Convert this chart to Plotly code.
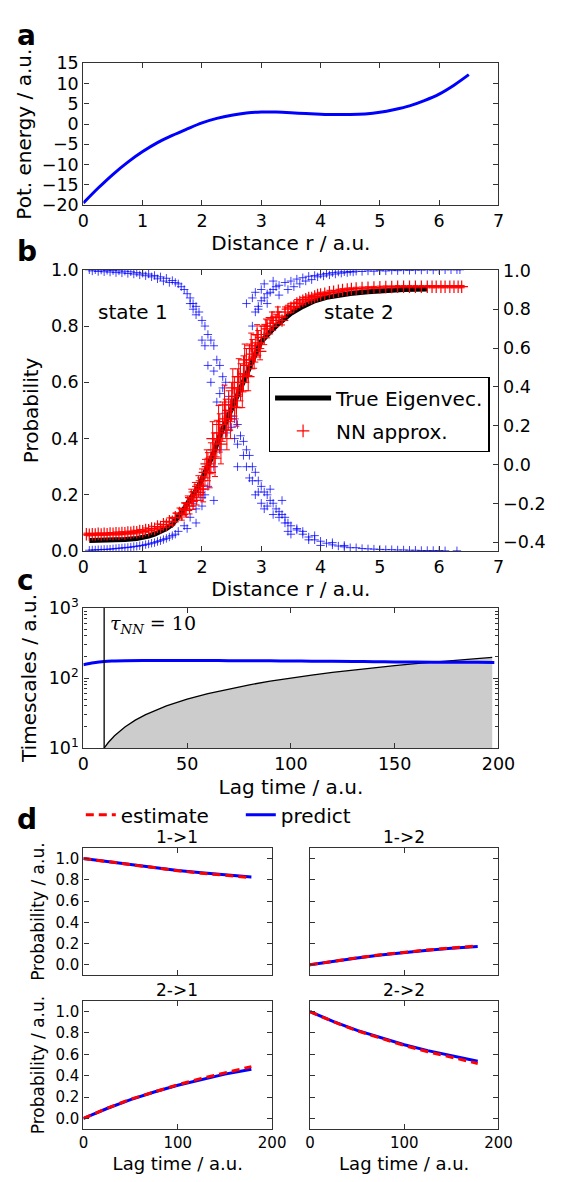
import plotly.graph_objects as go

W, H = 561, 1182
FONT = "DejaVu Sans"

# ---------------- Panel a: potential ----------------
pot_r = [0.0, 0.25, 0.5, 0.75, 1.0, 1.25, 1.5, 1.75, 2.0, 2.25, 2.5, 2.75, 3.0, 3.25, 3.5,
         3.75, 4.0, 4.25, 4.5, 4.75, 5.0, 5.25, 5.5, 5.75, 6.0, 6.25, 6.5]
pot_e = [-19.5, -15.8, -12.4, -9.4, -6.8, -4.6, -2.8, -1.2, 0.3, 1.4, 2.2, 2.75, 3.0, 2.95, 2.8,
         2.6, 2.45, 2.35, 2.35, 2.5, 2.9, 3.6, 4.5, 5.8, 7.4, 9.6, 12.2]
pot_ticks = [-20, -15, -10, -5, 0, 5, 10, 15]

# ---------------- Panel b ----------------
# blue: state 1 membership (decreasing)
s1_x = [0.1, 0.2, 0.3, 0.4, 0.5, 0.6, 0.7, 0.8, 0.9, 1.0, 1.1, 1.2, 1.3, 1.4, 1.5, 1.55, 1.6, 1.65,
        1.7, 1.75, 1.8, 1.85, 1.9, 1.95, 2.0, 2.05, 2.1, 2.15, 2.2, 2.25, 2.3, 2.35, 2.4, 2.45, 2.5,
        2.55, 2.6, 2.65, 2.7, 2.75, 2.8, 2.85, 2.9, 2.95, 3.0, 3.05, 3.1, 3.15, 3.2, 3.25, 3.3, 3.35,
        3.4, 3.45, 3.5, 3.6, 3.7, 3.8, 3.9, 4.0, 4.1, 4.2, 4.3, 4.4, 4.5, 4.7, 4.9, 5.1, 5.3, 5.5,
        5.7, 5.9, 6.1, 6.3,
        0.15, 0.25, 0.35, 0.45, 0.55, 0.65, 0.75, 0.85, 0.95, 1.05, 1.15, 1.25, 1.35, 1.45, 1.8,
        1.85, 1.9, 2.0, 2.05, 2.1, 2.15, 2.2, 2.25, 2.3, 2.35, 2.4, 2.45, 2.5, 2.55, 2.6, 2.6, 2.7,
        2.75, 2.8, 2.85, 2.9, 2.95, 3.0, 3.05, 3.1, 3.15, 3.2, 3.3, 3.35, 3.4, 3.45, 3.5, 3.6, 3.7,
        3.8, 3.9, 4.0, 4.2, 4.4, 4.6, 4.8, 5.0, 5.2, 5.4, 5.6, 5.8, 6.0]
s1_y = [1.0, 1.0, 0.999, 0.998, 0.997, 0.996, 0.995, 0.993, 0.99, 0.988, 0.985, 0.98, 0.975, 0.97,
        0.962, 0.955, 0.95, 0.94, 0.93, 0.915, 0.9, 0.88, 0.87, 0.85, 0.82, 0.8, 0.77, 0.75, 0.73,
        0.68, 0.66, 0.62, 0.6, 0.55, 0.52, 0.47, 0.45, 0.41, 0.39, 0.36, 0.34, 0.3, 0.28, 0.25, 0.23,
        0.21, 0.2, 0.18, 0.17, 0.15, 0.14, 0.13, 0.12, 0.1, 0.09, 0.075, 0.06, 0.05, 0.04, 0.035,
        0.028, 0.022, 0.018, 0.015, 0.012, 0.009, 0.007, 0.005, 0.004, 0.003, 0.002, 0.002, 0.001,
        0.001,
        0.996, 0.994, 0.993, 0.992, 0.99, 0.989, 0.987, 0.985, 0.982, 0.979, 0.975, 0.968, 0.96,
        0.955, 0.88, 0.86, 0.84, 0.75, 0.73, 0.66, 0.6, 0.64, 0.53, 0.56, 0.58, 0.49, 0.52, 0.44,
        0.4, 0.38, 0.3, 0.34, 0.3, 0.26, 0.25, 0.2, 0.21, 0.17, 0.15, 0.16, 0.22, 0.13, 0.12, 0.18,
        0.1, 0.07, 0.06, 0.08, 0.07, 0.04, 0.055, 0.02, 0.03, 0.02, 0.012, 0.008, 0.006, 0.005,
        0.004, 0.003, 0.002, 0.002]

# blue: state 2 membership (increasing)
s2_x = [0.1, 0.2, 0.3, 0.4, 0.5, 0.6, 0.7, 0.8, 0.9, 1.0, 1.1, 1.2, 1.3, 1.4, 1.5, 1.6, 1.7, 1.8,
        1.9, 2.0, 2.1, 2.2, 2.3, 2.4, 2.5, 2.6, 2.7, 2.75, 2.8, 2.85, 2.9, 2.95, 3.0, 3.05, 3.1,
        3.15, 3.2, 3.25, 3.3, 3.4, 3.5, 3.6, 3.7, 3.8, 3.9, 4.0, 4.1, 4.2, 4.3, 4.4, 4.5, 4.6, 4.8,
        5.0, 5.2, 5.4, 5.6, 5.8, 6.0, 6.2, 6.35,
        0.15, 0.25, 0.35, 0.45, 0.55, 0.65, 0.75, 0.85, 0.95, 1.05, 1.15, 1.25, 1.35, 1.45, 1.55,
        1.75, 1.85, 1.9, 2.0, 2.05, 2.2, 2.75, 2.85, 2.9, 2.95, 3.0, 3.05, 3.1, 3.2, 3.3, 3.45, 3.55,
        3.65, 3.75, 3.85, 3.95, 4.05, 4.15, 4.25, 4.35, 4.45, 4.55, 4.7, 4.9, 5.1, 5.3, 5.5, 5.7,
        5.9, 6.1, 6.3]
s2_y = [0.003, 0.004, 0.005, 0.006, 0.008, 0.01, 0.012, 0.014, 0.017, 0.02, 0.025, 0.03, 0.037,
        0.045, 0.055, 0.07, 0.09, 0.12, 0.15, 0.19, 0.23, 0.3, 0.36, 0.42, 0.48, 0.55, 0.62, 0.66,
        0.72, 0.8, 0.85, 0.87, 0.89, 0.9, 0.915, 0.92, 0.93, 0.94, 0.945, 0.955, 0.96, 0.967,
        0.972, 0.977, 0.98, 0.984, 0.987, 0.99, 0.992, 0.993, 0.994, 0.995, 0.996, 0.997, 0.998,
        0.999, 0.999, 1.0, 1.0, 1.0, 1.0,
        0.004, 0.005, 0.006, 0.007, 0.009, 0.011, 0.013, 0.016, 0.019, 0.023, 0.028, 0.034, 0.041,
        0.05, 0.06, 0.08, 0.17, 0.1, 0.16, 0.2, 0.18, 0.88, 0.9, 0.92, 0.86, 0.93, 0.95, 0.88,
        0.96, 0.91, 0.93, 0.94, 0.95, 0.96, 0.965, 0.975, 0.978, 0.982, 0.985, 0.988, 0.99,
        0.992, 0.994, 0.995, 0.996, 0.997, 0.998, 0.999, 0.999, 1.0, 1.0]

# red: NN approximation with error bars
nn_x = [0.05, 0.15, 0.25, 0.35, 0.45, 0.55, 0.65, 0.75, 0.85, 0.95, 1.05, 1.15, 1.25, 1.35, 1.45,
        1.55, 1.62, 1.7, 1.76, 1.82, 1.88, 1.94, 2.0, 2.05, 2.1, 2.15, 2.2, 2.25, 2.3, 2.35, 2.4,
        2.45, 2.5, 2.55, 2.6, 2.65, 2.7, 2.75, 2.8, 2.85, 2.9, 2.95, 3.0, 3.05, 3.1, 3.15, 3.2,
        3.25, 3.3, 3.4, 3.5, 3.6, 3.7, 3.8, 3.9, 4.0, 4.15, 4.3, 4.45, 4.6, 4.8, 5.0, 5.2, 5.4,
        5.6, 5.8, 5.95, 6.1, 6.25, 6.38,
        0.1, 0.2, 0.3, 0.4, 0.5, 0.6, 0.7, 0.8, 0.9, 1.0, 1.1, 1.2, 1.3, 1.4, 1.5, 1.66, 1.73,
        1.79, 1.85, 1.91, 1.97,
        2.02, 2.08, 2.13, 2.18, 2.22, 2.28, 2.32, 2.38, 2.42, 2.48, 2.52, 2.58, 2.62, 2.68, 2.72,
        2.78, 2.83, 2.88, 2.93, 2.98, 3.08, 3.18, 3.28, 3.35, 3.45, 3.55, 3.65, 3.75, 3.85, 3.95,
        4.07, 4.22, 4.37, 4.52, 4.7, 4.9, 5.1, 5.3, 5.5, 5.7, 5.88, 6.03, 6.18, 6.32]
nn_y = [0.06, 0.06, 0.061, 0.061, 0.062, 0.063, 0.064, 0.066, 0.068, 0.071, 0.075, 0.08, 0.087,
        0.095, 0.106, 0.12, 0.135, 0.15, 0.17, 0.19, 0.21, 0.23, 0.25, 0.28, 0.3, 0.33, 0.36, 0.4,
        0.42, 0.46, 0.47, 0.5, 0.53, 0.55, 0.58, 0.6, 0.63, 0.66, 0.68, 0.7, 0.72, 0.74, 0.76,
        0.77, 0.79, 0.8, 0.81, 0.82, 0.83, 0.85, 0.865, 0.88, 0.89, 0.9, 0.905, 0.912, 0.92,
        0.925, 0.93, 0.933, 0.936, 0.938, 0.939, 0.94, 0.94, 0.94, 0.94, 0.94, 0.94, 0.94,
        0.058, 0.059, 0.059, 0.06, 0.061, 0.062, 0.063, 0.065, 0.067, 0.07, 0.074, 0.079, 0.085,
        0.093, 0.104, 0.13, 0.145, 0.16, 0.18, 0.2, 0.22,
        0.22, 0.31, 0.28, 0.4, 0.33, 0.45, 0.38, 0.52, 0.43, 0.47, 0.58, 0.51, 0.62, 0.57, 0.68,
        0.62, 0.73, 0.69, 0.77, 0.71, 0.8, 0.83, 0.85, 0.82, 0.86, 0.87, 0.885, 0.895, 0.9, 0.91,
        0.915, 0.922, 0.928, 0.932, 0.935, 0.937, 0.939, 0.94, 0.94, 0.94, 0.94, 0.94, 0.94,
        0.94]
nn_err = [0.004, 0.004, 0.004, 0.004, 0.004, 0.005, 0.005, 0.005, 0.006, 0.006, 0.007, 0.008,
          0.009, 0.01, 0.012, 0.015, 0.018, 0.022, 0.026, 0.03, 0.034, 0.038, 0.042, 0.046, 0.05,
          0.055, 0.06, 0.065, 0.068, 0.07, 0.07, 0.07, 0.07, 0.07, 0.068, 0.066, 0.064, 0.06,
          0.056, 0.052, 0.048, 0.044, 0.04, 0.036, 0.032, 0.028, 0.025, 0.022, 0.02, 0.018, 0.016,
          0.014, 0.012, 0.01, 0.009, 0.008, 0.007, 0.006, 0.005, 0.005, 0.004, 0.004, 0.004,
          0.004, 0.004, 0.004, 0.004, 0.004, 0.004, 0.004,
          0.004, 0.004, 0.004, 0.004, 0.004, 0.005, 0.005, 0.005, 0.006, 0.006, 0.007, 0.008,
          0.009, 0.01, 0.012, 0.02, 0.024, 0.028, 0.032, 0.036, 0.04,
          0.045, 0.05, 0.055, 0.06, 0.065, 0.068, 0.07, 0.07, 0.07, 0.07, 0.068, 0.066, 0.064,
          0.06, 0.056, 0.05, 0.045, 0.04, 0.035, 0.03, 0.025, 0.02, 0.018, 0.016, 0.014, 0.012,
          0.01, 0.009, 0.008, 0.007, 0.006, 0.005, 0.005, 0.004, 0.004, 0.004, 0.004, 0.004,
          0.004, 0.004, 0.004, 0.004, 0.004, 0.004]

# black: true eigenvector
ev_x = [0.1, 0.3, 0.5, 0.7, 0.9, 1.0, 1.1, 1.2, 1.3, 1.4, 1.5, 1.6, 1.7, 1.8, 1.9, 2.0, 2.1, 2.2,
        2.3, 2.4, 2.5, 2.6, 2.7, 2.8, 2.9, 3.0, 3.1, 3.2, 3.3, 3.4, 3.5, 3.7, 3.9, 4.1, 4.3, 4.5,
        4.8, 5.1, 5.4, 5.8]
ev_y = [0.038, 0.038, 0.039, 0.041, 0.045, 0.048, 0.053, 0.06, 0.068, 0.08, 0.095, 0.12, 0.15,
        0.185, 0.215, 0.255, 0.3, 0.35, 0.41, 0.46, 0.51, 0.56, 0.61, 0.66, 0.7, 0.745, 0.77,
        0.79, 0.81, 0.83, 0.845, 0.87, 0.89, 0.902, 0.91, 0.916, 0.922, 0.927, 0.93, 0.932]
right_ticks = [-0.4, -0.2, 0.0, 0.2, 0.4, 0.6, 0.8, 1.0]

# ---------------- Panel c: implied timescales ----------------
its_lag = [0, 5, 10, 15, 20, 30, 40, 50, 60, 70, 80, 90, 100, 110, 120, 130, 140, 150, 160, 170,
           180, 190, 198]
its_val = [155, 165, 172, 175, 177, 178, 178, 178, 177.5, 177, 176.5, 176, 175, 174, 173, 172,
           171, 170, 169, 168.5, 168, 167.5, 167]
lagline_x = [10, 12, 15, 20, 25, 30, 40, 50, 60, 70, 80, 90, 100, 110, 120, 130, 140, 150, 160,
             170, 180, 190, 197]
lagline_y = [10, 12, 15, 20, 25, 30, 40, 50, 60, 70, 80, 90, 100, 110, 120, 130, 140, 150, 160,
             170, 180, 190, 197]
tau_nn = 10
minor_log = [20, 30, 40, 50, 60, 70, 80, 90, 200, 300, 400, 500, 600, 700, 800, 900]

# ---------------- Panel d: CK test ----------------
ck_lag = [0, 25, 50, 75, 100, 125, 150, 178]
p11_est = [1.0, 0.97, 0.943, 0.915, 0.885, 0.862, 0.842, 0.82]
p11_pred = [1.0, 0.97, 0.944, 0.916, 0.887, 0.865, 0.846, 0.826]
p12_est = [0.0, 0.035, 0.066, 0.094, 0.118, 0.14, 0.158, 0.178]
p12_pred = [0.0, 0.034, 0.064, 0.092, 0.116, 0.137, 0.155, 0.172]
p21_est = [0.0, 0.095, 0.18, 0.25, 0.315, 0.375, 0.43, 0.485]
p21_pred = [0.0, 0.093, 0.176, 0.247, 0.31, 0.365, 0.415, 0.46]
p22_est = [1.0, 0.905, 0.82, 0.75, 0.683, 0.625, 0.57, 0.515]
p22_pred = [1.0, 0.907, 0.824, 0.755, 0.69, 0.635, 0.585, 0.535]
ck_titles = ["1->1", "1->2", "2->1", "2->2"]

BLUE = "#0000ff"
RED = "#ff0000"
SPINE = "#333333"


def px_x(p):
    return p / W


def px_y(p):
    return 1 - p / H


def mtxt(v, fmt):
    return (fmt % v).replace("-", "\u2212")


fig = go.Figure()

# panel a
fig.add_trace(go.Scatter(x=pot_r, y=pot_e, mode="lines", line=dict(color=BLUE, width=3, shape="spline"),
                         xaxis="x", yaxis="y", showlegend=False))

# panel b
bmark = dict(symbol="cross-thin", size=6, color="rgba(0,0,255,0.75)",
             line=dict(width=1, color="rgba(0,0,255,0.75)"))
fig.add_trace(go.Scatter(x=s1_x, y=s1_y, mode="markers", xaxis="x2", yaxis="y2", showlegend=False,
                         marker=bmark))
fig.add_trace(go.Scatter(x=s2_x, y=s2_y, mode="markers", xaxis="x2", yaxis="y2", showlegend=False,
                         marker=bmark))
fig.add_trace(go.Scatter(x=ev_x, y=ev_y, mode="lines", name="True Eigenvec.", xaxis="x2", yaxis="y2",
                         line=dict(color="black", width=5), legend="legend", legendrank=1,
                         legendgroup="ev"))
fig.add_trace(go.Scatter(x=nn_x, y=nn_y, mode="markers", name="NN approx.", xaxis="x2", yaxis="y2",
                         marker=dict(symbol="cross-thin", size=9, color=RED, line=dict(width=1.2, color=RED)),
                         error_y=dict(type="data", array=nn_err, color=RED, thickness=1, width=3),
                         legend="legend", legendrank=2, legendgroup="nn"))
# invisible anchor so the right-hand axis is drawn
fig.add_trace(go.Scatter(x=[3.5], y=[0.3], mode="markers", marker=dict(opacity=0), xaxis="x2", yaxis="y3",
                         showlegend=False, hoverinfo="skip"))

# panel c
fill_x = lagline_x + [lagline_x[-1], lagline_x[0]]
fill_y = lagline_y + [10, 10]
fig.add_trace(go.Scatter(x=fill_x, y=fill_y, mode="lines", fill="toself", fillcolor="#cccccc",
                         line=dict(width=0), xaxis="x3", yaxis="y4", showlegend=False, hoverinfo="skip"))
fig.add_trace(go.Scatter(x=lagline_x, y=lagline_y, mode="lines", line=dict(color="black", width=1.3),
                         xaxis="x3", yaxis="y4", showlegend=False))
fig.add_trace(go.Scatter(x=its_lag, y=its_val, mode="lines", line=dict(color=BLUE, width=3, shape="spline"),
                         xaxis="x3", yaxis="y4", showlegend=False))
fig.add_trace(go.Scatter(x=[tau_nn, tau_nn], y=[10, 1000], mode="lines", line=dict(color="black", width=1.3),
                         xaxis="x3", yaxis="y4", showlegend=False))

# panel d
d_sets = [(p11_est, p11_pred), (p12_est, p12_pred), (p21_est, p21_pred), (p22_est, p22_pred)]
for i, (est, pred) in enumerate(d_sets):
    xa = "x%d" % (4 + i)
    ya = "y%d" % (5 + i)
    fig.add_trace(go.Scatter(x=ck_lag, y=pred, mode="lines", name="predict", xaxis=xa, yaxis=ya,
                             line=dict(color=BLUE, width=3), legend="legend2", legendrank=2,
                             showlegend=(i == 0)))
    fig.add_trace(go.Scatter(x=ck_lag, y=est, mode="lines", name="estimate", xaxis=xa, yaxis=ya,
                             line=dict(color=RED, width=3, dash="8px,5px"), legend="legend2",
                             legendrank=1, showlegend=(i == 0)))


def ax(**kw):
    base = dict(showline=True, linecolor=SPINE, linewidth=1.3, mirror="ticks", ticks="inside",
                ticklen=5, tickcolor=SPINE, tickwidth=1, showgrid=False, zeroline=False,
                tickfont=dict(family=FONT, size=17.5, color="black"),
                title_font=dict(family=FONT, size=20, color="black"))
    base.update(kw)
    return base


X_AB = [px_x(80.7), px_x(513.5)]
dA = [px_y(196.7), px_y(52.3)]
dB = [px_y(549.3), px_y(262.7)]
dC = [px_y(750), px_y(607.3)]
dD1 = [px_y(981.7), px_y(851.7)]
dD2 = [px_y(1138.3), px_y(1007.7)]
dL = [px_x(80.7), px_x(277.5)]
dR = [px_x(317), px_x(513.5)]

layout = dict(
    width=W, height=H, margin=dict(l=0, r=0, t=0, b=0),
    paper_bgcolor="white", plot_bgcolor="white",
    font=dict(family=FONT, color="black"),
    xaxis=ax(domain=X_AB, anchor="y", range=[0, 7], dtick=1,
             title=dict(text="Distance r / a.u.", standoff=4)),
    yaxis=ax(domain=dA, anchor="x", range=[-20, 15], tickvals=pot_ticks,
             ticktext=[mtxt(v, "%d") for v in pot_ticks],
             title=dict(text="Pot. energy / a.u.", standoff=4)),
    xaxis2=ax(domain=X_AB, anchor="y2", range=[0, 7], dtick=1,
              title=dict(text="Distance r / a.u.", standoff=4)),
    yaxis2=ax(domain=dB, anchor="x2", range=[0, 1], dtick=0.2, tickformat=".1f", mirror=False,
              title=dict(text="Probability", standoff=6)),
    yaxis3=ax(overlaying="y2", side="right", anchor="x2", range=[-0.445, 1.003],
              tickvals=right_ticks, ticktext=[mtxt(v, "%.1f") for v in right_ticks],
              showline=True, mirror=False),
    xaxis3=ax(domain=X_AB, anchor="y4", range=[0, 200], dtick=50,
              title=dict(text="Lag time / a.u.", standoff=6)),
    yaxis4=ax(domain=dC, anchor="x3", type="log", range=[1, 3],
              tickvals=[10, 100, 1000], ticktext=["10<sup>1</sup>", "10<sup>2</sup>", "10<sup>3</sup>"],
              minor=dict(ticks="inside", ticklen=3, tickcolor=SPINE, tickvals=minor_log, showgrid=False),
              title=dict(text="Timescales / a.u.", standoff=6)),
)

d_domains = [(dL, dD1), (dR, dD1), (dL, dD2), (dR, dD2)]
for i, (dx, dy) in enumerate(d_domains):
    xk = "xaxis%d" % (4 + i)
    yk = "yaxis%d" % (5 + i)
    bottom = i >= 2
    left = i % 2 == 0
    xa = ax(domain=dx, anchor="y%d" % (5 + i), range=[0, 200], dtick=100,
            showticklabels=bottom, tickfont=dict(family=FONT, size=15, color="black"),
            title_font=dict(family=FONT, size=18, color="black"))
    if bottom:
        xa["title"] = dict(text="Lag time / a.u.", standoff=6)
    ya = ax(domain=dy, anchor="x%d" % (4 + i), range=[-0.1, 1.1], tickvals=[0, 0.2, 0.4, 0.6, 0.8, 1.0],
            tickformat=".1f", showticklabels=left,
            tickfont=dict(family=FONT, size=15, color="black"),
            title_font=dict(family=FONT, size=17, color="black"))
    if left:
        ya["title"] = dict(text="Probability / a.u.", standoff=6)
    layout[xk] = xa
    layout[yk] = ya

layout["legend"] = dict(x=px_x(274), y=px_y(372), xanchor="left", yanchor="top",
                        bordercolor="black", borderwidth=1.3, bgcolor="white",
                        font=dict(family=FONT, size=20, color="black"),
                        traceorder="grouped", tracegroupgap=4, itemwidth=56)
layout["legend2"] = dict(x=px_x(78), y=px_y(818), xanchor="left", yanchor="middle",
                         orientation="h", bgcolor="rgba(0,0,0,0)",
                         font=dict(family=FONT, size=20, color="black"),
                         entrywidth=115, entrywidthmode="pixels")

annotations = []
for letter, yy in [("a", 24), ("b", 244), ("c", 579), ("d", 823)]:
    annotations.append(dict(text="<b>%s</b>" % letter, x=px_x(9), y=px_y(yy), xref="paper", yref="paper",
                            xanchor="left", yanchor="middle", showarrow=False,
                            font=dict(family=FONT, size=28, color="black")))
annotations.append(dict(text="state 1", x=px_x(94), y=px_y(306), xref="paper", yref="paper",
                        xanchor="left", yanchor="middle", showarrow=False,
                        font=dict(family=FONT, size=20, color="black")))
annotations.append(dict(text="state 2", x=px_x(329), y=px_y(306), xref="paper", yref="paper",
                        xanchor="left", yanchor="middle", showarrow=False,
                        font=dict(family=FONT, size=20, color="black")))
annotations.append(dict(text="<i>τ</i><sub><i>NN</i></sub> = 10", x=px_x(106), y=px_y(624), xref="paper",
                        yref="paper", xanchor="left", yanchor="middle", showarrow=False,
                        font=dict(family="DejaVu Serif", size=19, color="black")))
for t, (cx, cy) in zip(ck_titles, [(178, 841), (415, 841), (178, 997), (415, 997)]):
    annotations.append(dict(text=t, x=px_x(cx), y=px_y(cy), xref="paper", yref="paper",
                            xanchor="center", yanchor="middle", showarrow=False,
                            font=dict(family=FONT, size=17, color="black")))
layout["annotations"] = annotations

fig.update_layout(**layout)
fig.write_html("out.html")
